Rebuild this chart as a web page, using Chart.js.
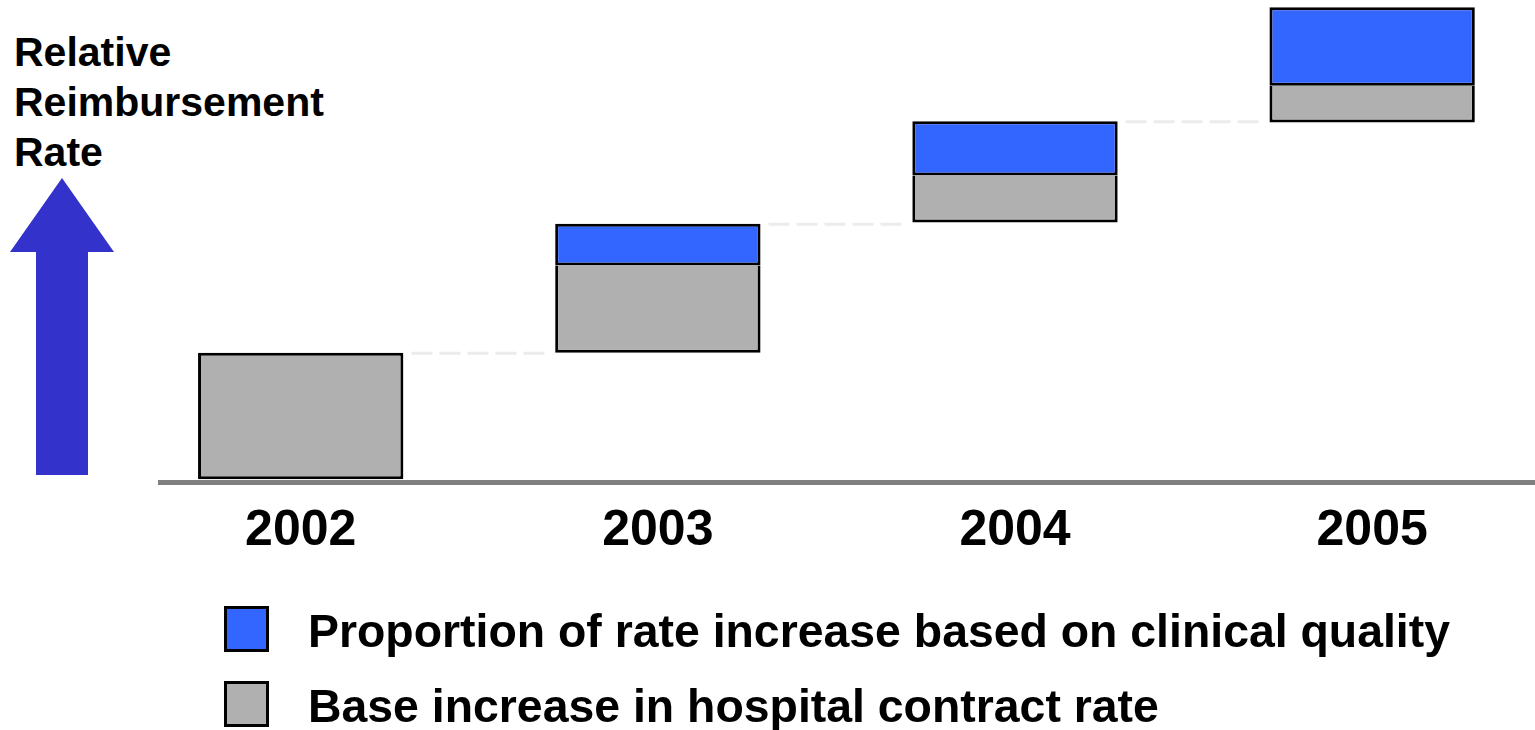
<!DOCTYPE html>
<html>
<head>
<meta charset="utf-8">
<script src="https://cdn.jsdelivr.net/npm/chart.js@4.4.1/dist/chart.umd.min.js"></script>
<style>
  html, body { margin: 0; padding: 0; background: #ffffff; overflow: hidden; }
  body { width: 1535px; height: 730px; position: relative; font-family: 'Liberation Sans', Arial, Helvetica, sans-serif; }
  #wrap { position: absolute; left: 0; top: 0; width: 1535px; height: 730px; }
  #ytitle { position: absolute; left: 14px; top: 27px; font-weight: bold; font-size: 41px; line-height: 50px; color: #000; white-space: nowrap; }
  #arrow { position: absolute; left: 0; top: 0; }
  .leg-item { position: absolute; left: 224px; height: 46px; }
  .leg-box { position: absolute; left: 0; top: 0; width: 45px; height: 46px; box-sizing: border-box; border: 3px solid #000; }
  .leg-text { position: absolute; left: 84px; top: 2px; font-weight: bold; font-size: 46.4px; line-height: 46px; color: #000; white-space: nowrap; }
</style>
</head>
<body>
<svg id="arrow" width="130" height="490" viewBox="0 0 130 490">
  <polygon points="62,178 114,252 88,252 88,475 36,475 36,252 10,252" fill="#3333CC"/>
</svg>
<div id="ytitle">Relative<br>Reimbursement<br>Rate</div>
<div id="wrap"><canvas id="c"></canvas></div>
<div id="legend"></div>
<script>
// ---- data ----
const years = ['2002', '2003', '2004', '2005'];
const baseLow = [0, 100, 203, 282];
const baseHigh = [100, 169, 240, 311];
const qualityLow = [null, 169, 240, 311];
const qualityHigh = [null, 202, 283, 373];
const seriesLabels = ['Proportion of rate increase based on clinical quality', 'Base increase in hospital contract rate'];
const seriesColors = ['#3366FF', '#B0B0B0'];

const baseData = years.map((y, i) => ({ x: i, y: [baseLow[i], baseHigh[i]] }));
const qualityData = years.map((y, i) => ({ x: i, y: qualityLow[i] === null ? null : [qualityLow[i], qualityHigh[i]] }));

const connectors = {
  id: 'connectors',
  beforeDatasetsDraw(chart) {
    const ctx = chart.ctx;
    const yS = chart.scales.y;
    const bars = chart.getDatasetMeta(0).data;
    ctx.save();
    ctx.strokeStyle = '#ececec';
    ctx.lineWidth = 3;
    ctx.setLineDash([21, 7]);
    for (let i = 0; i < years.length - 1; i++) {
      const top = qualityHigh[i] !== null ? qualityHigh[i] : baseHigh[i];
      const y = yS.getPixelForValue(top) + 0.5;
      const x1 = bars[i].x + bars[i].width / 2 + 8;
      const x2 = bars[i + 1].x - bars[i + 1].width / 2 - 5;
      ctx.beginPath();
      ctx.moveTo(x1, y);
      ctx.lineTo(x2, y);
      ctx.stroke();
    }
    ctx.restore();
  }
};

new Chart(document.getElementById('c'), {
  type: 'bar',
  data: {
    datasets: [
      {
        label: seriesLabels[1],
        data: baseData,
        backgroundColor: seriesColors[1],
        borderColor: '#000000',
        borderWidth: (ctx) => ({ top: (qualityLow[ctx.dataIndex] === null ? 3 : 0), left: 3, right: 3, bottom: 3 }),
        borderSkipped: false,
        inflateAmount: 0,
        grouped: false,
        categoryPercentage: 1,
        barPercentage: 0.575,
        order: 2
      },
      {
        label: seriesLabels[0],
        data: qualityData,
        backgroundColor: seriesColors[0],
        borderColor: '#000000',
        borderWidth: 3,
        borderSkipped: false,
        inflateAmount: 0,
        grouped: false,
        categoryPercentage: 1,
        barPercentage: 0.575,
        order: 1
      }
    ]
  },
  options: {
    responsive: true,
    maintainAspectRatio: false,
    animation: false,
    layout: { padding: { left: 160, top: 0, right: 0, bottom: 0 } },
    plugins: { legend: { display: false }, tooltip: { enabled: false }, title: { display: false } },
    scales: {
      x: {
        type: 'linear',
        offset: false,
        min: -0.394,
        max: 3.456,
        afterBuildTicks(axis) { axis.ticks = years.map((y, i) => ({ value: i })); },
        afterFit(scale) { scale.height = 247.5; },
        grid: { display: false, drawTicks: false },
        border: { display: true, color: '#808080', width: 5 },
        ticks: {
          autoSkip: false,
          maxRotation: 0,
          padding: 19,
          color: '#000000',
          font: { family: "'Liberation Sans', Arial, sans-serif", size: 50, weight: 'bold' },
          callback: (v) => years[v] !== undefined ? years[v] : ''
        }
      },
      y: {
        display: false,
        min: -2.6,
        max: 378.8
      }
    }
  },
  plugins: [connectors]
});

// legend built from the series arrays
const legend = document.getElementById('legend');
const legTops = [606, 681];
seriesLabels.forEach((lab, i) => {
  const item = document.createElement('div');
  item.className = 'leg-item';
  item.style.top = legTops[i] + 'px';
  const box = document.createElement('div');
  box.className = 'leg-box';
  box.style.background = seriesColors[i];
  const txt = document.createElement('div');
  txt.className = 'leg-text';
  txt.textContent = lab;
  item.appendChild(box);
  item.appendChild(txt);
  legend.appendChild(item);
});
</script>
</body>
</html>
